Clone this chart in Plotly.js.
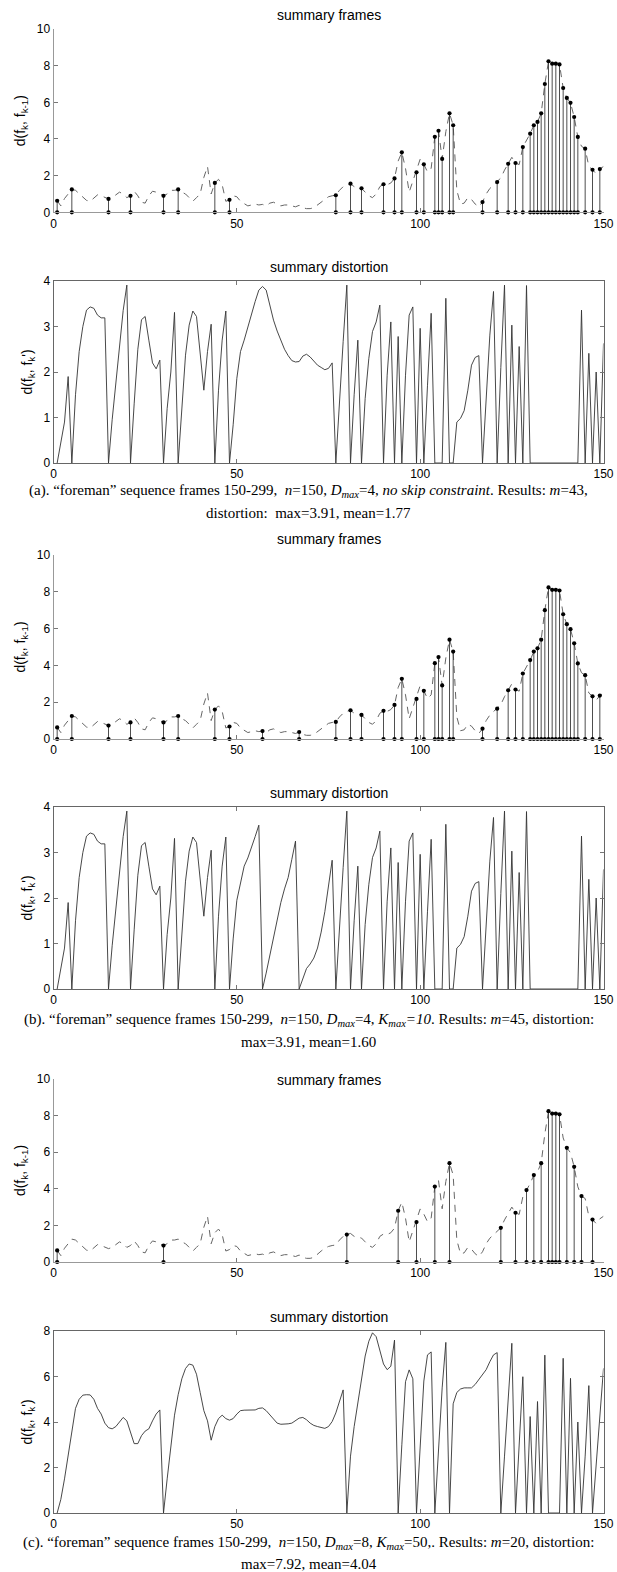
<!DOCTYPE html>
<html><head><meta charset="utf-8">
<script src="https://cdn.plot.ly/plotly-3.0.1.min.js"></script>
<style>html,body{margin:0;padding:0;background:#fff;}#chart{width:617px;height:1572px;}</style>
</head><body><div id="chart"></div>
<script>
// ---------------- DATA ----------------
// frame index k (x axis categories)
const frameNumbers = Array.from({length: 150}, (_, i) => i + 1);

// d(f_k, f_k-1): difference between consecutive frames (dashed curve)
const frameDiff = [
 0.63,0.35,0.75,1.0,1.25,1.2,1.0,0.8,0.65,0.6,
 0.75,0.95,0.9,0.8,0.73,0.8,0.95,1.1,1.0,0.8,
 0.9,1.15,0.9,0.55,0.5,0.9,1.15,1.1,1.0,0.9,
 1.0,1.2,1.2,1.25,1.1,1.0,0.8,0.6,0.8,1.0,
 1.9,2.5,1.0,1.6,1.8,1.5,0.6,0.68,0.9,0.85,
 0.6,0.45,0.35,0.4,0.45,0.4,0.43,0.35,0.5,0.55,
 0.45,0.35,0.4,0.4,0.35,0.3,0.38,0.25,0.2,0.2,
 0.25,0.4,0.6,0.75,0.85,0.9,0.93,1.2,1.4,1.5,
 1.56,1.4,1.35,1.31,1.1,0.9,0.8,1.0,1.4,1.53,
 1.5,1.6,1.85,2.8,3.27,2.4,1.1,1.7,2.18,2.9,
 2.62,2.2,2.4,4.12,4.45,2.91,4.4,5.4,4.75,1.2,
 0.45,0.5,0.8,0.7,0.45,0.3,0.56,1.0,1.3,1.5,
 1.65,1.87,2.3,2.65,3.0,2.69,2.6,3.56,3.93,4.29,
 4.75,4.93,5.4,7.0,8.24,8.11,8.11,8.07,6.78,6.24,
 5.97,5.2,4.11,3.6,3.47,2.5,2.32,2.1,2.36,2.5
];

// d(f_k, f_k'): distortion of each frame, case (a)
const distA = [
 0,0.5,0.9,1.9,0,1.5,2.45,3.0,3.36,3.43,
 3.4,3.25,3.19,3.19,0,0.95,1.75,2.65,3.35,3.91,
 0,1.3,2.5,3.15,3.22,2.7,2.2,2.07,2.26,0,
 1.2,2.0,3.31,0,1.2,2.37,3.03,3.34,3.22,2.45,
 1.6,2.45,3.05,0,1.6,2.7,3.34,0,0.84,1.86,
 2.45,2.7,3.0,3.25,3.55,3.8,3.88,3.8,3.47,3.14,
 2.9,2.7,2.5,2.36,2.25,2.22,2.23,2.35,2.39,2.33,
 2.25,2.15,2.1,2.05,2.08,2.2,0,1.42,2.67,3.91,
 0,1.5,2.7,0,1.42,2.3,2.89,3.1,3.47,0,
 1.93,3.1,0,2.78,0,1.93,3.25,3.43,0,2.96,
 0,1.71,3.29,0,0,0,3.62,0,0,0.9,
 0.98,1.15,1.6,2.15,2.32,2.36,0,1.42,2.81,3.77,
 0,2.1,3.91,0,3.03,0,2.56,0,3.9,0,
 0,0,0,0,0,0,0,0,0,0,
 0,0,0,3.36,0,2.41,0,2.0,0,2.63
];

// distortion, case (b)
const distB = [
 0,0.5,0.9,1.9,0,1.5,2.45,3.0,3.36,3.43,
 3.4,3.25,3.19,3.19,0,0.95,1.75,2.65,3.35,3.91,
 0,1.3,2.5,3.15,3.22,2.7,2.2,2.07,2.26,0,
 1.2,2.0,3.31,0,1.2,2.37,3.03,3.34,3.22,2.45,
 1.6,2.45,3.05,0,1.6,2.7,3.34,0,1.1,1.95,
 2.36,2.7,2.88,3.1,3.35,3.6,0,0.35,0.75,1.12,
 1.5,1.9,2.2,2.45,2.85,3.25,0,0.25,0.45,0.55,
 0.68,0.9,1.25,1.7,2.25,2.83,0,1.42,2.67,3.91,
 0,1.5,2.7,0,1.42,2.3,2.89,3.1,3.47,0,
 1.93,3.1,0,2.78,0,1.93,3.25,3.43,0,2.96,
 0,1.71,3.29,0,0,0,3.62,0,0,0.9,
 0.98,1.15,1.6,2.15,2.32,2.36,0,1.42,2.81,3.77,
 0,2.1,3.91,0,3.03,0,2.56,0,3.9,0,
 0,0,0,0,0,0,0,0,0,0,
 0,0,0,3.36,0,2.41,0,2.0,0,2.63
];

// distortion, case (c)
const distC = [
 0,0.6,1.5,2.6,3.7,4.6,5.0,5.18,5.2,5.19,
 5.0,4.6,4.35,3.95,3.75,3.7,3.8,4.0,4.2,4.05,
 3.5,3.05,3.05,3.4,3.6,3.7,4.05,4.35,4.53,0,
 1.5,3.0,4.3,5.2,5.9,6.35,6.55,6.5,6.1,5.3,
 4.5,4.05,3.2,3.8,4.15,4.3,4.15,4.08,4.15,4.35,
 4.5,4.52,4.53,4.52,4.53,4.6,4.62,4.5,4.3,4.1,
 3.95,3.9,3.9,3.92,3.95,4.05,4.17,4.2,4.1,3.95,
 3.85,3.8,3.75,3.72,3.8,4.02,4.4,4.9,5.41,0,
 2.5,3.8,4.9,6.0,6.9,7.55,7.92,7.75,7.1,6.55,
 6.3,6.45,7.6,0,3.0,5.77,6.29,5.9,0,3.0,
 5.8,6.95,7.08,0,3.0,5.5,7.5,0,4.8,5.3,
 5.45,5.5,5.5,5.5,5.65,5.85,6.1,6.3,6.65,6.95,
 7.05,0,2.5,5.0,7.46,0,3.0,5.99,0,4.24,
 0,4.9,0,6.94,0,0,0,0,6.8,0,
 5.92,0,4.0,0,2.5,5.6,0,2.1,4.2,6.36
];

// selected summary frames
const summaryA = [1,5,15,21,30,34,44,48,77,81,84,90,93,95,99,101,104,105,106,108,109,117,121,124,126,128,130,131,132,133,134,135,136,137,138,139,140,141,142,143,145,147,149];
const summaryB = [1,5,15,21,30,34,44,48,57,67,77,81,84,90,93,95,99,101,104,105,106,108,109,117,121,124,126,128,130,131,132,133,134,135,136,137,138,139,140,141,142,143,145,147,149];
const summaryC = [1,30,80,94,99,104,108,122,126,129,131,133,135,136,137,138,140,142,144,147];

const xTickVals = [0, 50, 100, 150];
const framesTickVals = [0, 2, 4, 6, 8, 10];
const distTickValsAB = [0, 1, 2, 3, 4];
const distTickValsC = [0, 2, 4, 6, 8];

const framesTitle = 'summary frames';
const distTitle = 'summary distortion';
const framesYLabel = 'd(f<sub>k</sub>, f<sub>k-1</sub>)';
const distYLabel = 'd(f<sub>k</sub>, f<sub>k</sub>\')';

const captionLines = [
 ['(a). \u201cforeman\u201d sequence frames 150-299,\u00a0 <i>n</i>=150, <i>D<sub>max</sub></i>=4, <i>no skip constraint</i>. Results: <i>m</i>=43,',
  'distortion:\u00a0 max=3.91, mean=1.77'],
 ['(b). \u201cforeman\u201d sequence frames 150-299,\u00a0 <i>n</i>=150, <i>D<sub>max</sub></i>=4, <i>K<sub>max</sub>=10</i>. Results: <i>m</i>=45, distortion:',
  'max=3.91, mean=1.60'],
 ['(c). \u201cforeman\u201d sequence frames 150-299,\u00a0 <i>n</i>=150, <i>D<sub>max</sub></i>=8, <i>K<sub>max</sub></i>=50,. Results: <i>m</i>=20, distortion:',
  'max=7.92, mean=4.04']
];

// ---------------- LAYOUT HELPERS ----------------
const W = 617, H = 1572;
const X0 = 53.5, X1 = 603.5;
const sans = 'Liberation Sans, Arial, Helvetica, sans-serif';
const serif = 'Liberation Serif, Times New Roman, serif';
const px2y = p => 1 - p / H;
const dom = (top, bot) => [px2y(bot), px2y(top)];

const panels = [
 {top: 29,   bot: 212.3, kind: 'frames', summary: summaryA, titleY: 15},
 {top: 281,  bot: 463,   kind: 'dist',   dist: distA, ticks: distTickValsAB, ymax: 4, titleY: 267},
 {top: 555,  bot: 739,   kind: 'frames', summary: summaryB, titleY: 539},
 {top: 807,  bot: 989,   kind: 'dist',   dist: distB, ticks: distTickValsAB, ymax: 4, titleY: 793},
 {top: 1079, bot: 1262,  kind: 'frames', summary: summaryC, titleY: 1080},
 {top: 1331, bot: 1513,  kind: 'dist',   dist: distC, ticks: distTickValsC, ymax: 8, titleY: 1317}
];
const captionY = [[491, 513], [1020, 1042], [1543, 1564]];

const data = [];
const layout = {
  width: W, height: H,
  margin: {l: 0, r: 0, t: 0, b: 0},
  paper_bgcolor: '#fff', plot_bgcolor: '#fff',
  showlegend: false,
  font: {family: sans, size: 12, color: '#000'},
  annotations: []
};

panels.forEach((p, i) => {
  const n = i + 1;
  const xa = n === 1 ? 'x' : 'x' + n;
  const ya = n === 1 ? 'y' : 'y' + n;
  const xKey = n === 1 ? 'xaxis' : 'xaxis' + n;
  const yKey = n === 1 ? 'yaxis' : 'yaxis' + n;
  const isFrames = p.kind === 'frames';

  layout[xKey] = {
    domain: [X0 / W, X1 / W], anchor: ya,
    range: [0, 150], tickvals: xTickVals, ticktext: xTickVals.map(String),
    ticks: 'inside', ticklen: 4, tickcolor: '#777', tickwidth: 1,
    showline: true, linecolor: isFrames ? '#999' : '#666', linewidth: 1,
    mirror: isFrames ? false : 'ticks',
    showgrid: false, zeroline: false,
    tickfont: {family: sans, size: 12, color: '#000'}
  };
  layout[yKey] = {
    domain: dom(p.top, p.bot), anchor: xa,
    range: isFrames ? [0, 10] : [0, p.ymax],
    tickvals: isFrames ? framesTickVals : p.ticks,
    ticktext: (isFrames ? framesTickVals : p.ticks).map(String),
    ticks: 'inside', ticklen: 4, tickcolor: '#777', tickwidth: 1,
    showline: true, linecolor: isFrames ? '#999' : '#666', linewidth: 1,
    mirror: isFrames ? false : 'ticks',
    showgrid: false, zeroline: false,
    tickfont: {family: sans, size: 12, color: '#000'},
    title: {text: isFrames ? framesYLabel : distYLabel, font: {family: sans, size: 14, color: '#000'}, standoff: 7}
  };

  layout.annotations.push({
    text: isFrames ? framesTitle : distTitle,
    xref: 'paper', yref: 'paper', x: (X0 + X1) / 2 / W, y: px2y(p.titleY),
    xanchor: 'center', yanchor: 'middle', showarrow: false,
    font: {family: sans, size: 14, color: '#000'}
  });

  if (isFrames) {
    data.push({
      type: 'scatter', mode: 'lines', x: frameNumbers, y: frameDiff,
      xaxis: xa, yaxis: ya, line: {color: '#666', width: 1, dash: '7px,6px'}, hoverinfo: 'skip'
    });
    const sx = [], sy = [];
    p.summary.forEach(f => { sx.push(f, f, null); sy.push(0, frameDiff[f - 1], null); });
    data.push({
      type: 'scatter', mode: 'lines', x: sx, y: sy, xaxis: xa, yaxis: ya,
      line: {color: '#3a3a3a', width: 0.9}, hoverinfo: 'skip'
    });
    data.push({
      type: 'scatter', mode: 'markers', x: p.summary, y: p.summary.map(f => frameDiff[f - 1]),
      xaxis: xa, yaxis: ya, marker: {color: '#000', size: 4.2}, cliponaxis: false
    });
    data.push({
      type: 'scatter', mode: 'markers', x: p.summary, y: p.summary.map(() => 0),
      xaxis: xa, yaxis: ya, marker: {color: '#000', size: 4.2}, cliponaxis: false
    });
  } else {
    data.push({
      type: 'scatter', mode: 'lines', x: frameNumbers, y: p.dist,
      xaxis: xa, yaxis: ya, line: {color: '#333', width: 0.9}, hoverinfo: 'skip'
    });
  }
});

captionLines.forEach((lines, i) => {
  lines.forEach((t, j) => {
    layout.annotations.push({
      text: t, xref: 'paper', yref: 'paper', x: 0.5, y: px2y(captionY[i][j]),
      xanchor: 'center', yanchor: 'middle', showarrow: false,
      font: {family: serif, size: 15, color: '#000'}
    });
  });
});

Plotly.newPlot('chart', data, layout, {staticPlot: true, displayModeBar: false});
</script>
</body></html>
